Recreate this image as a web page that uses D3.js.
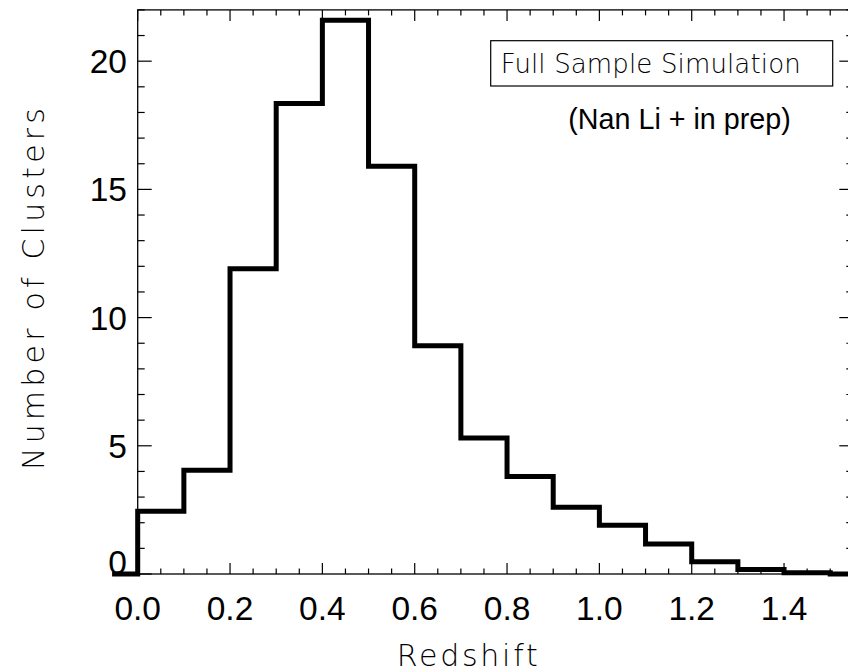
<!DOCTYPE html>
<html>
<head>
<meta charset="utf-8">
<script src="https://cdn.jsdelivr.net/npm/d3@7"></script>
<style>
  html, body { margin: 0; padding: 0; background: #fff; }
  svg { display: block; }
</style>
</head>
<body>
<svg id="chart" width="848" height="672"></svg>
<script>
// ---- data (IDL psym=10 style: bin centres and counts) ----
const binCenters = [-0.05, 0.05, 0.15, 0.25, 0.35, 0.45, 0.55, 0.65, 0.75, 0.85, 0.95, 1.05, 1.15, 1.25, 1.35, 1.45, 1.55];
const counts     = [0, 2.45, 4.05, 11.9, 18.35, 21.6, 15.9, 8.9, 5.3, 3.8, 2.6, 1.9, 1.17, 0.48, 0.18, 0.05, 0.0];
const xMajorTicks = [0.0, 0.2, 0.4, 0.6, 0.8, 1.0, 1.2, 1.4];
const xTickLabels = ["0.0", "0.2", "0.4", "0.6", "0.8", "1.0", "1.2", "1.4"];
const yMajorTicks = [0, 5, 10, 15, 20];
const yTickLabels = ["0", "5", "10", "15", "20"];
const xTitle = "Redshift";
const yTitle = "Number of Clusters";
const legendText = "Full Sample Simulation";
const noteText = "(Nan Li + in prep)";

const svg = d3.select("#chart");
const x = d3.scaleLinear().domain([0, 1.55]).range([137.7, 853.3]);
const y = d3.scaleLinear().domain([0, 22]).range([574, 9.9]);

const xMinor = d3.range(0, 1.5501, 0.05).filter(v => !xMajorTicks.some(t => Math.abs(t - v) < 1e-6));
const yMinor = d3.range(0, 22.01, 1).filter(v => !yMajorTicks.some(t => Math.abs(t - v) < 1e-6));

const axisFont = "'Liberation Sans', Arial, Helvetica, sans-serif";
const thinFont = "'DejaVu Sans', Roboto, sans-serif";

// frame
const frame = svg.append("g").attr("stroke", "#000").attr("stroke-width", 1.3).attr("fill", "none");
frame.append("rect")
  .attr("x", x(0)).attr("y", y(22))
  .attr("width", x(1.55) - x(0)).attr("height", y(0) - y(22));

// ticks - inward on all four sides
const majLenX = 11, minLenX = 5.5, majLenY = 14, minLenY = 7;
const tk = svg.append("g").attr("stroke", "#000").attr("stroke-width", 1.2);
xMajorTicks.forEach(v => {
  tk.append("line").attr("x1", x(v)).attr("x2", x(v)).attr("y1", y(0)).attr("y2", y(0) - majLenX);
  tk.append("line").attr("x1", x(v)).attr("x2", x(v)).attr("y1", y(22)).attr("y2", y(22) + majLenX);
});
xMinor.forEach(v => {
  tk.append("line").attr("x1", x(v)).attr("x2", x(v)).attr("y1", y(0)).attr("y2", y(0) - minLenX);
  tk.append("line").attr("x1", x(v)).attr("x2", x(v)).attr("y1", y(22)).attr("y2", y(22) + minLenX);
});
yMajorTicks.forEach(v => {
  tk.append("line").attr("y1", y(v)).attr("y2", y(v)).attr("x1", x(0)).attr("x2", x(0) + majLenY);
  tk.append("line").attr("y1", y(v)).attr("y2", y(v)).attr("x1", x(1.55)).attr("x2", x(1.55) - majLenY);
});
yMinor.forEach(v => {
  tk.append("line").attr("y1", y(v)).attr("y2", y(v)).attr("x1", x(0)).attr("x2", x(0) + minLenY);
  tk.append("line").attr("y1", y(v)).attr("y2", y(v)).attr("x1", x(1.55)).attr("x2", x(1.55) - minLenY);
});

// tick labels
svg.append("g").selectAll("text").data(xMajorTicks).join("text")
  .attr("x", d => x(d)).attr("y", 620)
  .attr("text-anchor", "middle")
  .attr("font-family", axisFont).attr("font-size", 33.5).attr("fill", "#000")
  .text((d, i) => xTickLabels[i]);

svg.append("g").selectAll("text").data(yMajorTicks).join("text")
  .attr("x", 127)
  .attr("y", d => d === 0 ? y(0) - 0.5 : y(d) + 12)
  .attr("text-anchor", "end")
  .attr("font-family", axisFont).attr("font-size", 33.5).attr("fill", "#000")
  .text((d, i) => yTickLabels[i]);

// histogram step line
const line = d3.line()
  .x(d => x(d[0])).y(d => y(d[1]))
  .curve(d3.curveStep);
svg.append("path")
  .datum(binCenters.map((c, i) => [c, counts[i]]))
  .attr("d", line)
  .attr("fill", "none").attr("stroke", "#000").attr("stroke-width", 5)
  .attr("stroke-linejoin", "miter").attr("stroke-linecap", "square");

// axis titles
svg.append("text")
  .attr("x", 396.7).attr("y", 666)
  .attr("font-family", thinFont).attr("font-weight", 200).attr("font-size", 30)
  .attr("textLength", 141).attr("lengthAdjust", "spacing")
  .attr("fill", "#000")
  .text(xTitle);

svg.append("text")
  .attr("transform", "translate(44,470) rotate(-90)")
  .attr("font-family", thinFont).attr("font-weight", 200).attr("font-size", 30)
  .attr("textLength", 362).attr("lengthAdjust", "spacing")
  .attr("fill", "#000")
  .text(yTitle);

// legend box
svg.append("rect")
  .attr("x", 490.7).attr("y", 40.7).attr("width", 342).attr("height", 45.3)
  .attr("fill", "#fff").attr("stroke", "#000").attr("stroke-width", 1.2);
svg.append("text")
  .attr("x", 500.7).attr("y", 72.7)
  .attr("font-family", thinFont).attr("font-weight", 200).attr("font-size", 26)
  .attr("textLength", 300).attr("lengthAdjust", "spacing")
  .attr("fill", "#000")
  .text(legendText);

svg.append("text")
  .attr("x", 568.3).attr("y", 128.5)
  .attr("font-family", axisFont).attr("font-size", 28.7)
  .attr("fill", "#000")
  .text(noteText);
</script>
</body>
</html>
